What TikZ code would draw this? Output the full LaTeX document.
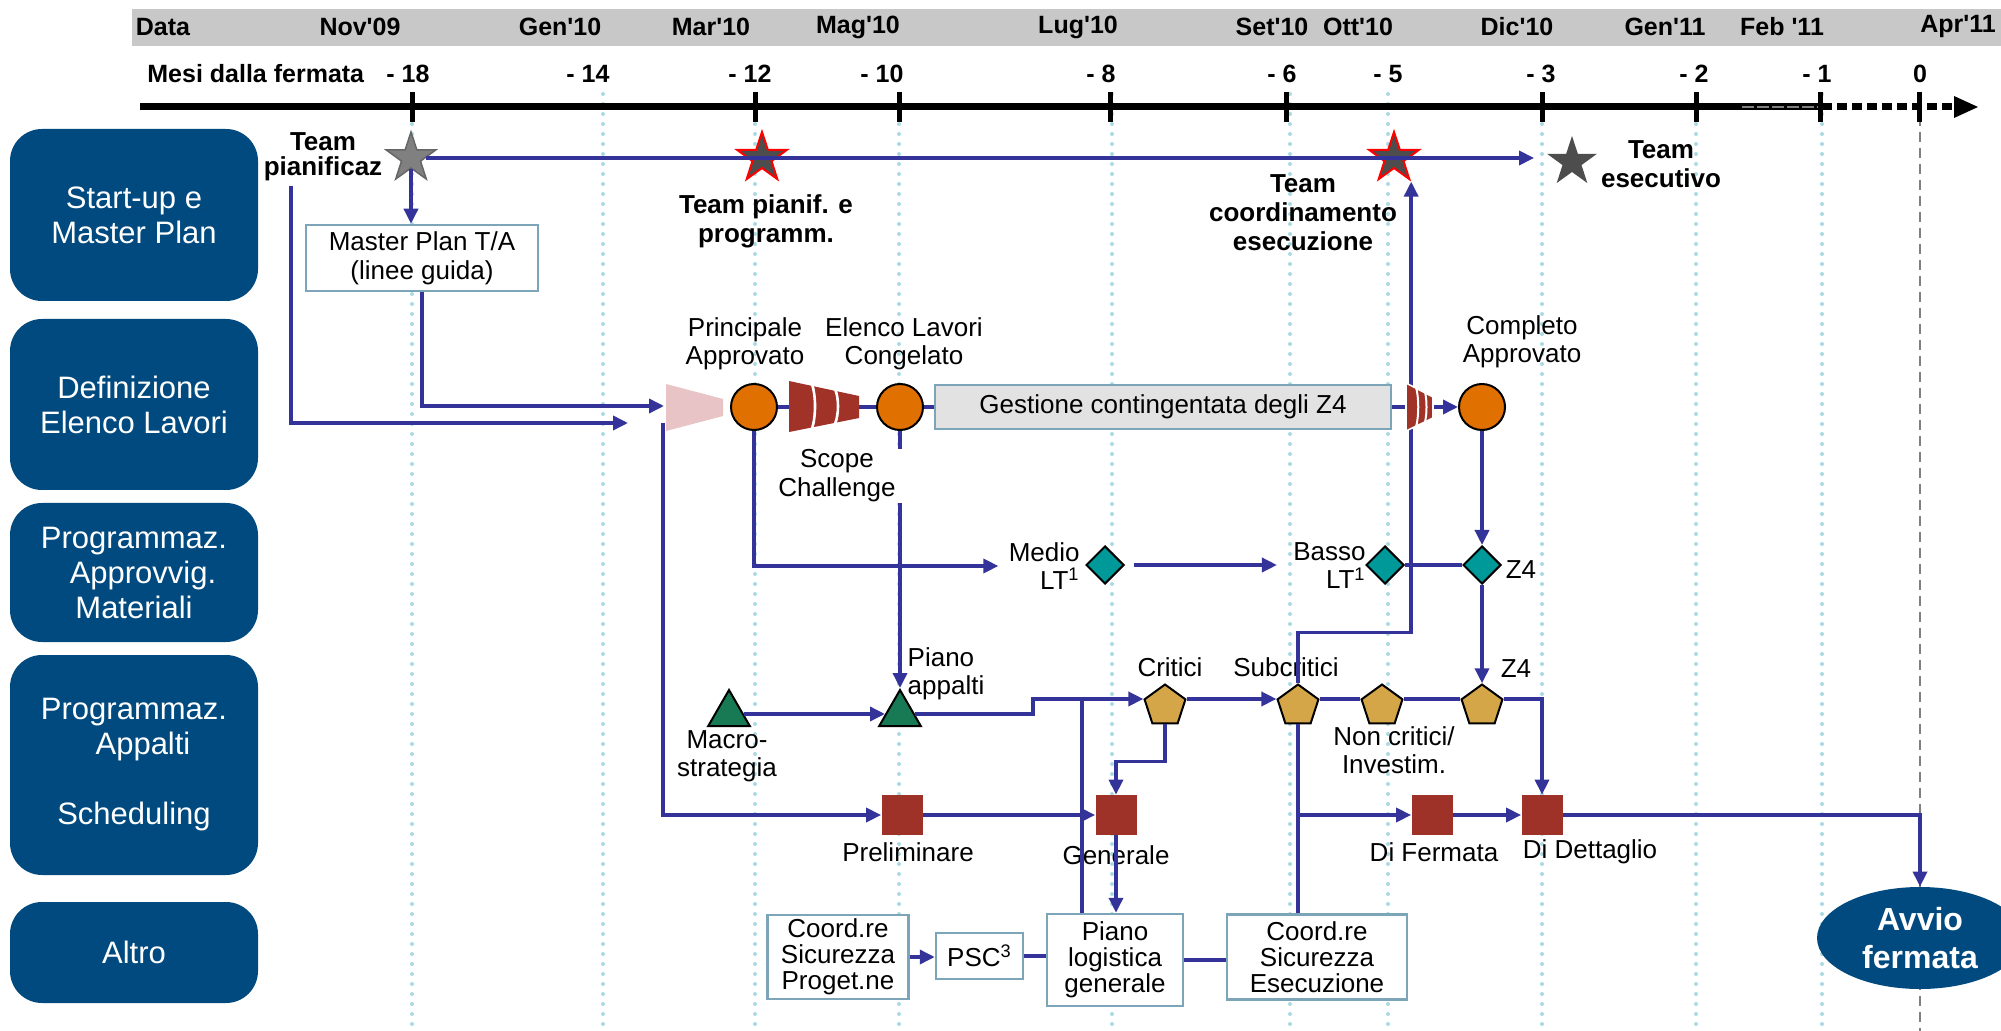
\documentclass[tikz,border=0pt]{standalone}
\usepackage{fontspec}
\setmainfont{Liberation Sans}
\usetikzlibrary{shapes.geometric,arrows.meta}
\definecolor{laneblue}{RGB}{0,74,127}
\definecolor{lineblue}{RGB}{51,51,153}
\definecolor{gridcyan}{RGB}{170,218,226}
\definecolor{headgray}{RGB}{200,200,200}
\definecolor{boxborder}{RGB}{125,165,185}
\definecolor{gestgray}{RGB}{226,226,226}
\definecolor{orangec}{RGB}{224,112,0}
\definecolor{funnelred}{RGB}{160,50,40}
\definecolor{pinkc}{RGB}{232,196,198}
\definecolor{greenc}{RGB}{24,122,84}
\definecolor{tealc}{RGB}{0,153,153}
\definecolor{goldc}{RGB}{212,166,72}
\definecolor{sqred}{RGB}{158,50,40}
\definecolor{stargray}{RGB}{128,128,128}
\definecolor{stardark}{RGB}{77,77,77}
\newcommand{\q}{\textquotesingle}
\tikzset{
 lane/.style={fill=laneblue, rounded corners=16pt, text=white, align=center, font=\fontsize{15.5}{17.5}\selectfont, inner sep=0pt},
 hdr/.style={font=\bfseries\fontsize{12.5}{14}\selectfont, inner sep=0pt},
 lbl/.style={font=\fontsize{13}{14}\selectfont, align=center, inner sep=1pt},
 blbl/.style={font=\bfseries\fontsize{13}{14.5}\selectfont, align=center, inner sep=1pt},
 ibox/.style={draw=boxborder, line width=1.25pt, fill=white, align=center, font=\fontsize{13}{13}\selectfont, inner sep=0pt},
 bl/.style={draw=lineblue, line width=1.75pt},
 arr/.style={bl, -{Triangle[length=7.5pt,width=7pt]}},
 gridln/.style={draw=gridcyan, line width=2pt, line cap=round, dash pattern=on 0pt off 5pt},
 circ/.style={circle, fill=orangec, draw=black, line width=1pt, minimum size=23pt, inner sep=0pt},
 diam/.style={diamond, fill=tealc, draw=black, line width=1pt, minimum width=19pt, minimum height=19pt, inner sep=0pt},
 pent/.style={regular polygon, regular polygon sides=5, fill=goldc, draw=black, line width=1pt, minimum size=21.5pt, inner sep=0pt},
 tri/.style={regular polygon, regular polygon sides=3, fill=greenc, draw=black, line width=1pt, minimum size=24pt, inner sep=0pt},
 sqr/.style={rectangle, fill=sqred, minimum width=20.5pt, minimum height=20pt, inner sep=0pt},
 strs/.style={star, star points=5, star point ratio=2.6, minimum size=26pt, inner sep=0pt},
}
\begin{document}
\begin{tikzpicture}[x=0.5pt,y=-0.5pt]
\useasboundingbox (0,0) rectangle (2001,1031);
\fill[white] (0,0) rectangle (2001,1031);
% header band
\fill[headgray] (132,9) rectangle (2001,46);
\foreach \x/\t in {163/Data,360/Nov\q09,560/Gen\q10,711/Mar\q10,858/Mag\q10,1078/Lug\q10,1272/Set\q10,1358/Ott\q10,1517/Dic\q10,1665/Gen\q11,1782/Feb \q11,1958/Apr\q11}
  \node[hdr] (h\x) at (\x,27) {\t};
\node[hdr, anchor=west] (mesi) at (147,74) {Mesi dalla fermata};
\foreach \x/\t in {408/- 18,588/- 14,750/- 12,882/- 10,1101/- 8,1282/- 6,1388/- 5,1541/- 3,1694/- 2,1817/- 1,1920/0}
  \node[hdr] (m\x) at (\x,74) {\t};
% grid lines
\foreach \x in {412,603,755,899,1112,1290,1388,1542,1696,1822}
  \draw[gridln] (\x,94) -- (\x,1031);
\draw[draw=gray, line width=0.75pt, dash pattern=on 5pt off 3pt] (1920,100) -- (1920,1031);
% timeline
\draw[black, line width=3.5pt] (140,107) -- (1822,107);
\draw[gray, line width=0.8pt, dash pattern=on 6pt off 1.5pt] (1742,107) -- (1818,107);
\draw[black, line width=3.5pt, dash pattern=on 5pt off 2.5pt] (1822,107) -- (1956,107);
\fill[black] (1954,96) -- (1978,107) -- (1954,118) -- cycle;
\foreach \x in {412,755,899,1110,1286,1542,1696,1820,1919}
  \draw[black, line width=2.5pt] (\x,92) -- (\x,122);
% lanes
\node[lane, minimum width=124pt, minimum height=86pt] (L1) at (134,215) {Start-up e\\Master Plan};
\node[lane, minimum width=124pt, minimum height=85.5pt] (L2) at (134,404.5) {Definizione\\Elenco Lavori};
\node[lane, minimum width=124pt, minimum height=69.5pt] (L3) at (134,572.5) {Programmaz.\\\hspace*{9pt}Approvvig.\\Materiali};
\node[lane, minimum width=124pt, minimum height=110pt] (L4) at (134,765) {Programmaz.\\\hspace*{9pt}Appalti\\[17.5pt]Scheduling};
\node[lane, minimum width=124pt, minimum height=50.5pt] (L5) at (134,952.5) {Altro};
% stars
\node[strs, fill=stargray, draw=black!60, line width=0.75pt] (sG) at (411,158) {};
\node[strs, fill=stardark, draw=red, line width=1pt] (sR1) at (762,158) {};
\node[strs, fill=stardark, draw=red, line width=1pt] (sR2) at (1394,158) {};
\node[strs, fill=stardark] (sD) at (1572,162) {};
\node[blbl, font=\bfseries\fontsize{13}{12.5}\selectfont] (teamPl) at (323,157) {Team\\pianificaz};
\node[blbl] (teamPP) at (766,221) {Team pianif. e\\programm.};
\node[blbl] (teamCE) at (1303,213) {Team\\coordinamento\\esecuzione};
\node[blbl] (teamE) at (1661,164) {Team\\esecutivo};
\node[ibox, minimum width=116pt, minimum height=33pt, font=\fontsize{13}{14.5}\selectfont] (mp) at (422,258) {Master Plan T/A\\(linee guida)};
% row 2
\node[circ] (c1) at (754,407) {};
\node[circ] (c2) at (900,407) {};
\node[circ] (c3) at (1482,407) {};
\node[ibox, fill=gestgray, minimum width=228pt, minimum height=22pt] (gest) at (1163,407) {Gestione contingentata degli Z4};
\node[lbl] (lPA) at (745,344) {Principale\\Approvato};
\node[lbl] (lEL) at (904,344) {Elenco Lavori\\Congelato};
\node[lbl] (lCA) at (1522,342) {Completo\\Approvato};
\coordinate (f1W) at (789,407);
\coordinate (f1E) at (859,407);
\coordinate (f2W) at (1406,407);
\coordinate (f2E) at (1433,407);
\coordinate (pinkW) at (664,406);
\coordinate (tpl) at (291,186);
\coordinate (lstop) at (628,423);
\coordinate (fs) at (663,423);
% row 3
\node[diam] (dM) at (1105,565) {};
\node[diam] (dB) at (1385,565) {};
\node[diam] (dZ) at (1482,565) {};
\node[lbl, anchor=east, align=right] (lM) at (1082,566) {Medio\\LT\textsuperscript{1}};
\node[lbl, anchor=east, align=right] (lB) at (1368,566) {Basso\\LT\textsuperscript{1}};
\node[lbl] (lZ4a) at (1521,570) {Z4};
% row 4
\node[tri] (tM) at (729,714) {};
\node[tri] (tPa) at (900,714) {};
\node[lbl] (lMac) at (727,756) {Macro-\\strategia};
\node[lbl, align=left] (lPia) at (946,674) {Piano\\appalti};
\node[pent] (pC) at (1165,706) {};
\node[pent] (pS) at (1298,706) {};
\node[pent] (pN) at (1382,706) {};
\node[pent] (pZ) at (1482,706) {};
\node[lbl] (lCr) at (1170,667) {Critici};
\node[lbl] (lSub) at (1286,667) {Subcritici};
\node[lbl] (lNon) at (1394,750) {Non critici/\\Investim.};
\node[lbl] (lZ4b) at (1516,669) {Z4};
\node[sqr] (qP) at (902,815) {};
\node[sqr] (qG) at (1116,815) {};
\node[sqr] (qF) at (1432,815) {};
\node[sqr] (qD) at (1542,815) {};
\node[lbl] (lPre) at (908,852) {Preliminare};
\node[lbl] (lGen) at (1116,855) {Generale};
\node[lbl] (lFer) at (1434,852) {Di Fermata};
\node[lbl] (lDet) at (1590,852) {Di Dettaglio};
% row 5
\node[ibox, minimum width=70.5pt, minimum height=42pt] (cp) at (838,957) {Coord.re\\Sicurezza\\Proget.ne};
\node[ibox, minimum width=43.5pt, minimum height=23pt] (psc) at (979.5,956) {PSC\textsuperscript{3}};
\node[ibox, minimum width=68pt, minimum height=46pt] (plog) at (1115,960) {Piano\\logistica\\generale};
\node[ibox, minimum width=90pt, minimum height=42.5pt] (ce) at (1317,957) {Coord.re\\Sicurezza\\Esecuzione};
\node[ellipse, fill=laneblue, text=white, minimum width=103pt, minimum height=51pt, inner sep=0pt, align=center, font=\bfseries\fontsize{16}{19}\selectfont] (avvio) at (1920,938) {Avvio\\fermata};
% connectors
\draw[arr] (sG.south) -- (sG.south |- mp.north);
\draw[arr, shorten >=6pt] (sG.east) -- (sG.east -| sD.outer point 2);
\draw[arr] (tpl) |- (lstop);
\draw[arr] (mp.south) |- (pinkW);
\draw[bl] (c1) -- (f1W);
\draw[bl] (f1E) -- (c2);
\draw[bl] (c2) -- (gest);
\draw[bl] (gest) -- (f2W);
\draw[arr] (f2E) -- (c3);
\draw[arr, shorten >=4pt] (c1.south) |- (lM.west);
\draw[arr, shorten <=4.5pt, shorten >=7pt] (dM.east) -- (dM.east -| lB.west);
\draw[bl] (dB) -- (dZ);
\draw[arr] (c3) -- (dZ);
\draw[arr] (dZ) -- (pZ);
\draw[arr] (c2.south) -- (tPa.north);
\draw[arr] (tM) -- (tPa);
\draw[arr] (tPa.east) -- (1033,714) |- (pC.corner 2);
\draw[bl] ([xshift=18pt]plog.north west) -- ([xshift=18pt]plog.north west |- pC.corner 2);
\draw[arr] (pC.corner 5) -- (pS.corner 2);
\draw[bl] (pS.corner 5) -- (pN.corner 2);
\draw[bl] (pN.corner 5) -- (pZ.corner 2);
\draw[arr] (pZ.corner 5) -| (qD.north);
\draw[arr] (pC.south) -- ++(0,37) -| (qG.north);
\draw[arr] (qG.south) -- (qG.south |- plog.north);
\draw[arr] (fs) |- (qP.west);
\draw[arr] (qP) -- (qG);
\draw[arr] (qF) -- (qD);
\draw[bl] (pS.south) -- (pS.south |- ce.north);
\draw[arr] (pS.south |- qF.west) -- (qF.west);
\draw[arr] (pS.north) -- ++(0,-51) -| (sR2.outer point 4);
\draw[arr] (qD.east) -| (avvio.north);
\draw[arr] (cp.east) -- (cp.east -| psc.west);
\draw[bl] (psc.east) -- (psc.east -| plog.west);
\draw[bl] (plog.east) -- (plog.east -| ce.west);
% funnels
\fill[pinkc] (666,384) -- (723,399) -- (723,416) -- (666,431) -- cycle;
\fill[funnelred] (789,381) -- (859,396) -- (859,418) -- (789,432) -- cycle;
\draw[white, line width=1.3pt] (812,384) .. controls (816,396) and (816,416) .. (812,429);
\draw[white, line width=1.3pt] (835,389) .. controls (839,398) and (839,414) .. (835,424);
\filldraw[fill=funnelred, draw=white, line width=0.8pt] (1406,383) -- (1433,397) -- (1433,418) -- (1406,431) -- cycle;
\draw[white, line width=1pt] (1416,387) .. controls (1419,398) and (1419,416) .. (1416,427);
\draw[white, line width=1pt] (1425,392) .. controls (1427,400) and (1427,414) .. (1425,422);
\node[lbl, fill=white, inner xsep=5pt, inner ysep=0.5pt, font=\fontsize{13}{14.5}\selectfont] (lSC) at (837,476) {Scope\\Challenge};
\end{tikzpicture}
\end{document}
